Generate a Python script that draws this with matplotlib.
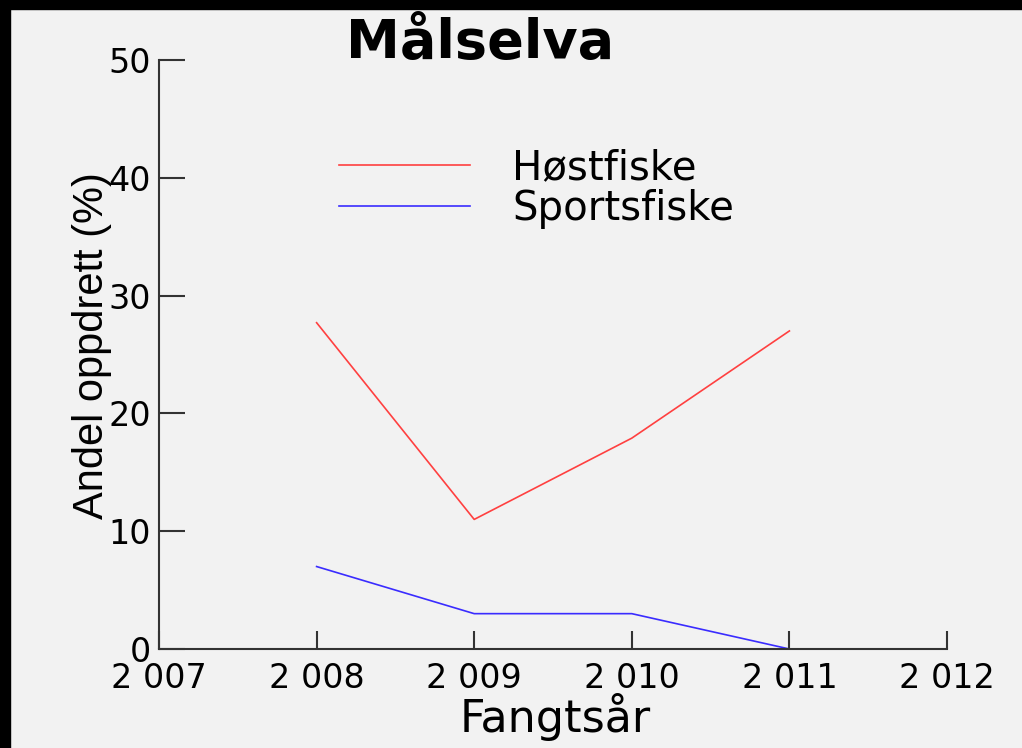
import matplotlib
matplotlib.use("Agg")
import matplotlib.pyplot as plt
from matplotlib.patches import Rectangle

# data
years = [2008, 2009, 2010, 2011]
hostfiske = [27.7, 11.0, 17.9, 27.0]
sportsfiske = [7.0, 3.0, 3.0, 0.0]

x_ticks = [2007, 2008, 2009, 2010, 2011, 2012]
x_tick_labels = ["2 007", "2 008", "2 009", "2 010", "2 011", "2 012"]
y_ticks = [0, 10, 20, 30, 40, 50]

W, H = 1022, 748
bg = "#f2f2f2"
axis_col = "#333333"

# the screenshot is stretched sideways, so the wider DejaVu face fits it better
plt.rcParams["font.family"] = ["DejaVu Sans"]

fig = plt.figure(figsize=(W / 100, H / 100), dpi=100, facecolor=bg)
# black strips at top and left edge of the screenshot
fig.patches.append(Rectangle((0, 1 - 9 / H), 1, 9 / H, transform=fig.transFigure,
                             color="black", zorder=0))
fig.patches.append(Rectangle((0, 0), 10 / W, 1, transform=fig.transFigure,
                             color="black", zorder=0))

ax = fig.add_axes([159 / W, 1 - 649 / H, (947 - 159) / W, (649 - 60) / H])
ax.set_facecolor(bg)

ax.plot(years, hostfiske, color="#ff4040", lw=1.2, label="Høstfiske")
ax.plot(years, sportsfiske, color="#3a2cff", lw=1.2, label="Sportsfiske")

ax.set_xlim(2007, 2012)
ax.set_ylim(0, 50)
ax.set_xticks(x_ticks)
ax.set_xticklabels(x_tick_labels)
ax.set_yticks(y_ticks)

for s in ["top", "right"]:
    ax.spines[s].set_visible(False)
for s in ["left", "bottom"]:
    ax.spines[s].set_color(axis_col)
    ax.spines[s].set_linewidth(1.5)

ax.tick_params(axis="x", direction="in", length=13, width=1.5, color=axis_col,
               labelsize=24, pad=9.5)
ax.tick_params(axis="y", direction="in", length=18.5, width=1.5, color=axis_col,
               labelsize=24, pad=6)

ax.set_xlabel("Fangtsår", fontsize=32)
ax.set_ylabel("Andel oppdrett (%)", fontsize=30, family="Liberation Sans")
ax.xaxis.set_label_coords(0.503, -0.075)
ax.yaxis.set_label_coords(-0.06, 0.516)

fig.text(480 / W, 1 - 58 / H, "Målselva", fontsize=39, fontweight="bold",
         ha="center", va="baseline")

ax.legend(loc="upper left", bbox_to_anchor=(339 / W, 1 - 148 / H),
          bbox_transform=fig.transFigure, frameon=False, fontsize=29,
          handlelength=3.25, handletextpad=1.05, labelspacing=0.03,
          borderpad=0, borderaxespad=0)

fig.savefig("out.png", dpi=100, facecolor=bg)
